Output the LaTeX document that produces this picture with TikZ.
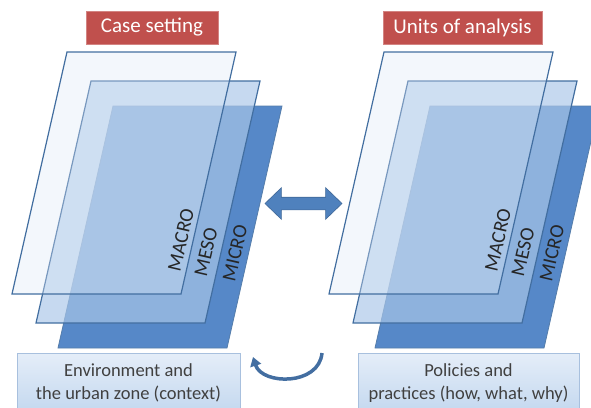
\documentclass[tikz,border=0pt]{standalone}
\usepackage{fontspec}
\setmainfont{Carlito}
\usetikzlibrary{arrows.meta, shapes.arrows}
\tikzset{>=latex}
\definecolor{planeedge}{RGB}{66,110,160}
\definecolor{planedark}{RGB}{86,136,200}
\definecolor{planemid}{RGB}{170,199,232}
\definecolor{planelight}{RGB}{222,233,247}
\definecolor{titlered}{RGB}{192,80,77}
\definecolor{arrowblue}{RGB}{79,129,189}
\definecolor{boxedge}{RGB}{168,192,222}
\tikzset{layer micro/.style = {fill=planedark, draw=planeedge!90, line width=0.8}}
\tikzset{layer meso/.style = {fill=planemid, fill opacity=0.67, draw=planeedge, draw opacity=1, line width=1.2}}
\tikzset{layer macro/.style = {fill=planelight, fill opacity=0.35, draw=planeedge, draw opacity=1, line width=1.2}}
\tikzset{layer label/.style = {rotate=77, text=black!85, font=\fontsize{20}{24}\selectfont, inner sep=0}}
\tikzset{title box/.style = {fill=titlered, draw=titlered!70!white, line width=0.8, text=white, minimum height=33, inner sep=0, font=\fontsize{21}{25}\selectfont}}
\tikzset{info box/.style = {top color=planelight!80!white, bottom color=planemid!70!white, draw=boxedge, line width=1, text=black!75, minimum height=60, inner sep=0, align=center, font=\fontsize{18.5}{23}\selectfont}}
\newcommand{\layerstack}[2]{
   \begin{scope}[shift={(#1,0)}]
      \draw[layer micro] (113,106) -- ++(169,0) -- ++(-55,242) -- ++(-169,0) -- cycle;
      \draw[layer meso] (91,81) -- ++(169,0) -- ++(-55,242) -- ++(-169,0) -- cycle;
      \draw[layer macro] (67,52) -- ++(169,0) -- ++(-55,242) -- ++(-169,0) -- cycle;
      \node[layer label] (#2-macro) at (181,240) {MACRO};
      \node[layer label] (#2-meso) at (206,252) {MESO};
      \node[layer label] (#2-micro) at (235,253) {MICRO};
   \end{scope}
}

\begin{document}
\begin{tikzpicture}[x=1pt, y=-1pt]
		\useasboundingbox (0,0) rectangle (591,407);
		\clip (0,0) rectangle (591,407);
		
		% Layers
		\layerstack{0}{case}
		\layerstack{317}{unit}
		
		% Titles
		\node[title box, minimum width=132] (setting) at (152,27.5) {Case setting};
		\node[title box, minimum width=159] (analysis) at (462.5,27.5) {Units of analysis};
		
		% Bottom boxes
		\node[info box, minimum width=223] (context) at (128.5,383) {Environment and\\the urban zone (context)};
		\node[info box, minimum width=221] (practice) at (468.5,383) {Policies and\\practices (how, what, why)};
		
		% Arrows
		\node[double arrow, fill=arrowblue, draw=arrowblue!80!black, line width=0.6, minimum height=77, inner xsep=0, inner ysep=6, double arrow head extend=9.5, double arrow tip angle=88] (link) at (303.5,203.5) {};
		%
		\coordinate (loopR) at (322,353);
		\coordinate (loopL) at (253,357);
		\draw[arrowblue!85!black, line width=3.5, -{Triangle[length=9,width=11]}] (loopR) .. controls (319,386) and (262,385) .. (loopL);
	\end{tikzpicture}
\end{document}
